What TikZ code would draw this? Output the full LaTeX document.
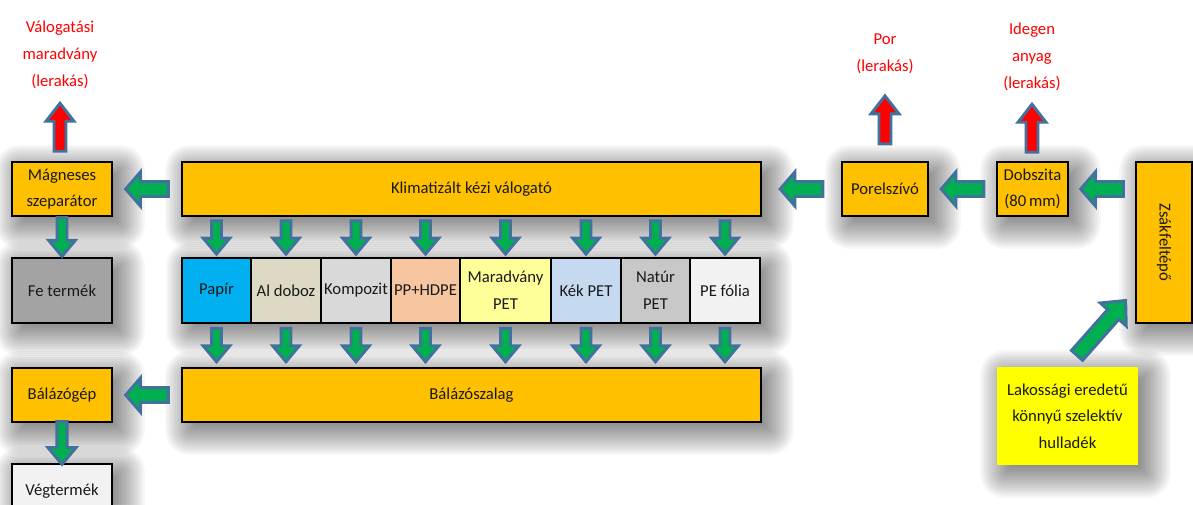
\documentclass[tikz,border=0pt]{standalone}
\usepackage{fontspec}
\setmainfont{Carlito}
\usetikzlibrary{calc,positioning,backgrounds}

\definecolor{boxorange}{HTML}{FFC000}
\definecolor{papircol}{HTML}{00B0F0}
\definecolor{aldobcol}{HTML}{DDD9C4}
\definecolor{kompcol}{HTML}{D9D9D9}
\definecolor{pphdcol}{HTML}{F7C59F}
\definecolor{maradcol}{HTML}{FFFF99}
\definecolor{kekcol}{HTML}{C5D9F1}
\definecolor{naturcol}{HTML}{C8C8C8}
\definecolor{pefolcol}{HTML}{F2F2F2}
\definecolor{fegray}{HTML}{A3A3A3}
\definecolor{lakyellow}{HTML}{FFFF00}
\definecolor{labelred}{HTML}{FF0000}
\definecolor{arrowblue}{HTML}{41719C}
\definecolor{flowgreen}{HTML}{00B050}

\tikzset{
  box/.style={draw, line width=1.2pt, fill=boxorange, align=center,
    minimum height=40.5pt, inner sep=2pt, text=black!90,
    font=\fontsize{12.5}{20}\selectfont},
  fraction/.style={box, outer sep=0pt, minimum height=48.75pt},
  redlabel/.style={text=labelred, align=center, font=\fontsize{12.5}{20}\selectfont},
  arrowline/.style={draw=arrowblue, line width=2.2pt, line join=miter},
  shadowlayer/.style={fill=black, opacity=0.031},
}

% soft shadow from stacked translucent rectangles: {bottom left}{top right}
\newcommand{\castshadow}[2]{%
  \foreach \r in {-12,...,12}{
    \pgfmathsetmacro{\e}{\r*2}
    \pgfmathsetmacro{\rc}{max(\e,0.5)*0.75}
    \fill[shadowlayer, rounded corners=\rc pt]
      ($(#1)+({8-\e},{8+\e})$) rectangle ($(#2)+({8+\e},{8-\e})$);
  }
}

% block arrow centred between two points: [fill]{from}{to}{half length}{shaft}{head}{head length}
\newcommand{\fatarrow}[7][flowgreen]{%
  \path ($(#2)!0.5!(#3)$) coordinate (faM);
  \path ($(faM)!#4!(#2)$) coordinate (faT) ($(faM)!#4!(#3)$) coordinate (faP);
  \path ($(faP)!#7!(faT)$) coordinate (faH);
  \draw[arrowline, fill=#1]
    ($(faT)!#5!90:(faP)$) -- ($(faH)!#5!90:(faP)$) -- ($(faH)!#6!90:(faP)$)
    -- (faP) -- ($(faH)!#6!-90:(faP)$) -- ($(faH)!#5!-90:(faP)$)
    -- ($(faT)!#5!-90:(faP)$) -- cycle;
}
\newcommand{\sidearrow}[2]{\fatarrow{#1}{#2}{16pt}{5.6pt}{12.75pt}{11pt}}
\newcommand{\droparrow}[2]{\fatarrow{#1}{#2}{12.5pt}{3.75pt}{10pt}{12pt}}
\newcommand{\wastearrow}[2]{\fatarrow[labelred]{#1}{#2}{18pt}{4.5pt}{10.5pt}{13.5pt}}

\begin{document}
\begin{tikzpicture}[x=0.75pt,y=-0.75pt]
  \begin{scope}[on background layer]
    \fill[white] (0,0) rectangle (1193,504);
  \end{scope}
  \useasboundingbox (0,0) rectangle (1193,504);

  \node (valog) at (60,55) [redlabel]{Válogatási\\maradvány\\(lerakás)};
  \node (por) at (885,54) [redlabel]{Por\\(lerakás)};
  \node (idegen) at (1032,57) [redlabel]{Idegen\\anyag\\(lerakás)};

  \node (magn) at (62,189) [box, minimum width=75pt]{Mágneses\\szeparátor};
  \node (klim) at (471.5,189) [box, minimum width=434.25pt]{Klimatizált kézi válogató};
  \node (porel) at (885,189) [box, minimum width=64.5pt]{Porelszívó};
  \node (dob) at (1032.5,189) [box, minimum width=53.25pt]{Dobszita\\(80\,mm)};
  \node (zsak) at (1164,242.5) [box, rotate=-90, minimum width=120.75pt, minimum height=42pt]{Zsákfeltépő};
  \node (lak) at (1067.5,416) [box, draw=none, fill=lakyellow, minimum width=105.75pt, minimum height=73.5pt]{Lakossági eredetű\\könnyű szelektív\\hulladék};

  \node (fe) at (62,290.5) [box, fill=fegray, minimum width=75pt, minimum height=48.75pt]{Fe termék};
  \node (papir) at (216.5,290.5) [fraction, fill=papircol, minimum width=51.75pt]{Papír};
  \node (aldob) at (286,290.5) [fraction, fill=aldobcol, minimum width=52.5pt]{Al doboz};
  \node (komp) at (356,290.5) [fraction, fill=kompcol, minimum width=52.5pt]{Kompozit};
  \node (pphd) at (425.5,290.5) [fraction, fill=pphdcol, minimum width=51.75pt]{PP+HDPE};
  \node (marad) at (505.5,290.5) [fraction, fill=maradcol, minimum width=68.25pt]{Maradvány\\PET};
  \node (kek) at (586,290.5) [fraction, fill=kekcol, minimum width=52.5pt]{Kék PET};
  \node (natur) at (655.5,290.5) [fraction, fill=naturcol, minimum width=51.75pt]{Natúr\\PET};
  \node (pefol) at (725,290.5) [fraction, fill=pefolcol, minimum width=52.5pt]{PE fólia};

  \node (bgep) at (62,395) [box, minimum width=75pt]{Bálázógép};
  \node (bszal) at (471.5,395) [box, minimum width=434.25pt]{Bálázószalag};
  \node (veg) at (62,491) [box, fill=pefolcol, minimum width=75pt]{Végtermék};

  % shadows behind everything
  \begin{scope}[on background layer]
    \foreach \n in {magn,klim,porel,dob,lak,fe,bgep,bszal,veg}{
      \castshadow{\n.south west}{\n.north east}
    }
    \castshadow{zsak.south east}{zsak.north west}
    \castshadow{papir.south west}{pefol.north east}
  \end{scope}

  \coordinate (zsakin) at ($(zsak.south)!0.58!(zsak.south east)$);

  % material flow
  \fatarrow{lak.north}{zsakin}{27.5pt}{5.6pt}{13pt}{14pt}
  \sidearrow{zsak.south |- dob.east}{dob.east}
  \sidearrow{dob.west}{porel.east}
  \sidearrow{porel.west}{klim.east}
  \sidearrow{klim.west}{magn.east}
  \sidearrow{bszal.west}{bgep.east}
  \fatarrow{magn.south}{fe.north}{14.5pt}{3.75pt}{10pt}{12pt}
  \fatarrow{bgep.south}{veg.north}{16pt}{3.9pt}{10.5pt}{12.5pt}
  \foreach \f in {papir,aldob,komp,pphd,marad,kek,natur,pefol}{
    \droparrow{klim.south -| \f}{\f.north}
    \droparrow{\f.south}{bszal.north -| \f}
  }

  % rejects
  \wastearrow{valog.south |- magn.north}{valog.south}
  \wastearrow{por.south |- porel.north}{por.south}
  \wastearrow{idegen.south |- dob.north}{idegen.south}
\end{tikzpicture}
\end{document}
